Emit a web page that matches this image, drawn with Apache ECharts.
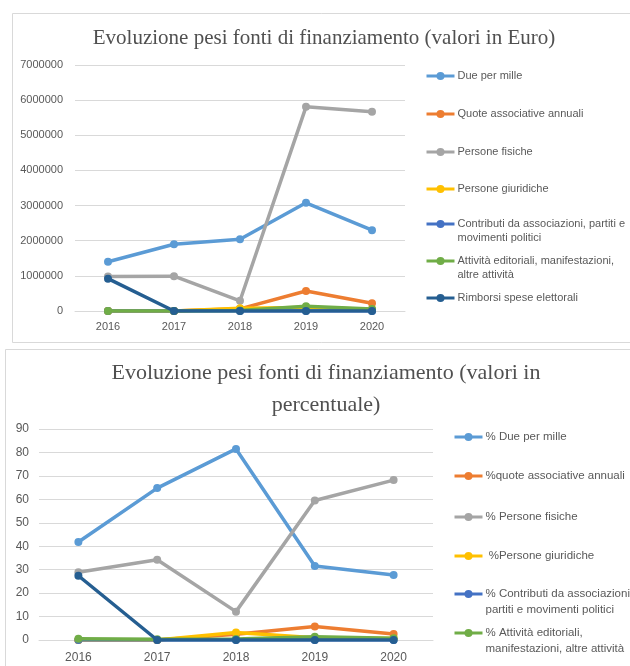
<!DOCTYPE html>
<html>
<head>
<meta charset="utf-8">
<script src="https://cdn.jsdelivr.net/npm/echarts@6/dist/echarts.min.js"></script>
<style>html,body{margin:0;padding:0;background:#fff;}#c{width:630px;height:666px;}</style>
</head>
<body>
<div id="c"></div>
<script>
// ---- Data ----
const years = ['2016', '2017', '2018', '2019', '2020'];

const euroTitle = 'Evoluzione pesi fonti di finanziamento (valori in Euro)';
const pctTitle = 'Evoluzione pesi fonti di finanziamento (valori in\npercentuale)';

const euroNames = ['Due per mille', 'Quote associative annuali', 'Persone fisiche', 'Persone giuridiche',
  'Contributi da associazioni, partiti e movimenti politici', 'Attività editoriali, manifestazioni, altre attività',
  'Rimborsi spese elettorali'];
const euroLabels = ['Due per mille', 'Quote associative annuali', 'Persone fisiche', 'Persone giuridiche',
  'Contributi da associazioni, partiti e\nmovimenti politici', 'Attività editoriali, manifestazioni,\naltre attività',
  'Rimborsi spese elettorali'];

const pctNames = ['% Due per mille', '%quote associative annuali', '% Persone fisiche', ' %Persone giuridiche',
  '% Contributi da associazioni, partiti e movimenti politici', '% Attività editoriali, manifestazioni, altre attività',
  '% Rimborsi spese elettorali'];
const pctLabels = ['% Due per mille', '%quote associative annuali', '% Persone fisiche', ' %Persone giuridiche',
  '% Contributi da associazioni,\npartiti e movimenti politici', '% Attività editoriali,\nmanifestazioni, altre attività'];

const dueEuro        = [1400000, 1900000, 2040000, 3080000, 2300000];
const quoteEuro      = [0, 0, 62000, 570000, 220000];
const fisicheEuro    = [980000, 990000, 290000, 5810000, 5670000];
const giuridicheEuro = [0, 0, 80000, 100000, 50000];
const contributiEuro = [0, 0, 0, 0, 0];
const attivitaEuro   = [0, 0, 12000, 135000, 60000];
const rimborsiEuro   = [920000, 0, 0, 0, 0];

const duePct        = [41.8, 64.8, 81.5, 31.6, 27.7];
const quotePct      = [0, 0, 2.5, 5.8, 2.6];
const fisichePct    = [28.9, 34.2, 12.1, 59.5, 68.2];
const giuridichePct = [0, 0, 3.2, 1.0, 0.6];
const contributiPct = [0, 0, 0, 0, 0];
const attivitaPct   = [0.5, 0.3, 0.4, 1.4, 0.7];
const rimborsiPct   = [27.4, 0, 0, 0, 0];

const euroTicks = { min: 0, max: 7000000, interval: 1000000 };
const pctTicks = { min: 0, max: 90, interval: 10 };

// ---- Styling ----
const colors = ['#5B9BD5', '#ED7D31', '#A5A5A5', '#FFC000', '#4472C4', '#70AD47', '#255E91'];
const gridColor = '#D9D9D9';
const textColor = '#595959';
const sans = '"Liberation Sans", Arial, sans-serif';
const serif = '"Liberation Serif", "Times New Roman", serif';

const euroData = [dueEuro, quoteEuro, fisicheEuro, giuridicheEuro, contributiEuro, attivitaEuro, rimborsiEuro];
const pctData = [duePct, quotePct, fisichePct, giuridichePct, contributiPct, attivitaPct, rimborsiPct];

function mkSeries(names, data, gi) {
  return names.map((n, i) => ({
    name: n, type: 'line', xAxisIndex: gi, yAxisIndex: gi, data: data[i],
    symbol: 'circle', symbolSize: 8,
    lineStyle: { width: 3.5, color: colors[i] },
    itemStyle: { color: colors[i] },
    z: 2 + i * 0.01
  }));
}

// legend item layouts (first-line centre y)
const euroLegendTops = [76, 114, 152, 189, 224, 261, 298];
const pctLegendTops = [437, 476, 517, 556, 594, 633];

function mkLegends(names, labels, centers, left, fs, lh) {
  return labels.map((lab, i) => {
    const multi = lab.indexOf('\n') >= 0;
    return {
      data: [names[i]], left: left, top: multi ? centers[i] - 1.5 * lh : centers[i] - lh / 2,
      orient: 'vertical', padding: 0, itemGap: 0, itemWidth: 28, itemHeight: 10,
      selectedMode: false,
      lineStyle: { width: 3 },
      formatter: () => multi ? '\n' + lab : lab,
      textStyle: { fontFamily: sans, fontSize: fs, lineHeight: lh, color: textColor, padding: [0, 0, 0, -2] }
    };
  });
}

function xAxis(gi, margin, fs) {
  return {
    type: 'category', gridIndex: gi, data: years, boundaryGap: true,
    axisTick: { show: false },
    axisLine: { lineStyle: { color: gridColor, width: 1 } },
    axisLabel: { color: textColor, fontFamily: sans, fontSize: fs, margin: margin }
  };
}
function yAxis(gi, t, margin, fs) {
  return {
    type: 'value', gridIndex: gi, min: t.min, max: t.max, interval: t.interval,
    axisLine: { show: false }, axisTick: { show: false },
    splitLine: { lineStyle: { color: gridColor, width: 1 } },
    axisLabel: { color: textColor, fontFamily: sans, fontSize: fs, margin: margin, formatter: v => String(v) }
  };
}

const chart = echarts.init(document.getElementById('c'), null, { renderer: 'canvas' });
chart.setOption({
  backgroundColor: '#fff',
  animation: false,
  graphic: [
    { type: 'rect', shape: { x: 12.5, y: 13.5, width: 640, height: 329 }, style: { fill: 'none', stroke: '#D9D9D9', lineWidth: 1 }, z: -1 },
    { type: 'rect', shape: { x: 5.5, y: 349.5, width: 640, height: 340 }, style: { fill: 'none', stroke: '#D9D9D9', lineWidth: 1 }, z: -1 },
    { type: 'text', x: 324, y: 38, style: { text: euroTitle, font: '21px ' + serif, fill: '#505050', textAlign: 'center', textVerticalAlign: 'middle' } },
    { type: 'text', x: 326, y: 389, style: { text: pctTitle, font: '22px ' + serif, lineHeight: 32, fill: '#505050', textAlign: 'center', textVerticalAlign: 'middle' } }
  ],
  grid: [
    { left: 75, right: 225, top: 65, height: 246 },
    { left: 39, right: 197, top: 429, height: 211 }
  ],
  xAxis: [xAxis(0, 10, 11), xAxis(1, 12, 12)],
  yAxis: [yAxis(0, euroTicks, 12, 11), yAxis(1, pctTicks, 10, 12)],
  legend: mkLegends(euroNames, euroLabels, euroLegendTops, 425, 11, 14)
    .concat(mkLegends(pctNames, pctLabels, pctLegendTops, 453, 11.5, 15.5)),
  series: mkSeries(euroNames, euroData, 0).concat(mkSeries(pctNames, pctData, 1))
});
</script>
</body>
</html>
